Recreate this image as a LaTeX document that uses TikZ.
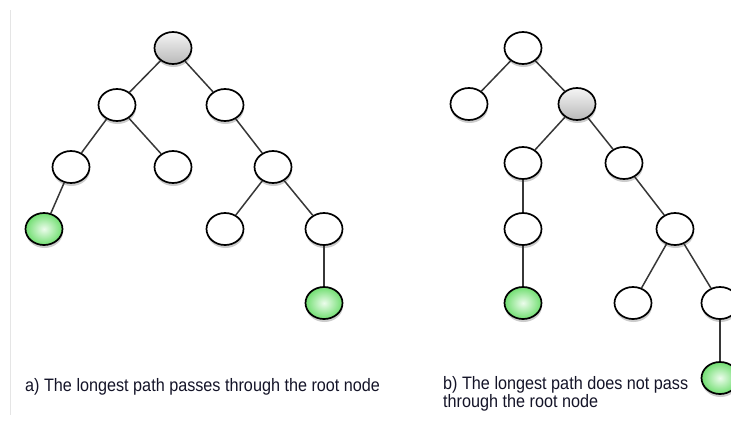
\documentclass[tikz,border=0pt]{standalone}
\usepackage{fontspec}
\setmainfont[FakeStretch=0.9]{Liberation Sans}
\usetikzlibrary{shapes.geometric,shadows}
\definecolor{leafin}{RGB}{236,252,236}
\definecolor{leafout}{RGB}{112,222,112}
\definecolor{edgegray}{RGB}{55,55,55}
\definecolor{captext}{RGB}{20,20,40}

\begin{document}
\begin{tikzpicture}[x=1pt,y=-1pt,
  vertex/.style={ellipse,draw=black,line width=1.7pt,minimum width=37pt,minimum height=32pt,inner sep=0pt,
    fill=white,drop shadow={shadow xshift=0.5pt,shadow yshift=-3pt,opacity=.4}},
  leaf/.style={vertex,inner color=leafin,outer color=leafout},
  top/.style={vertex,top color=gray!8,bottom color=gray!55},
  link/.style={draw=edgegray,line width=1.5pt},
  caption/.style={font=\fontsize{18}{16.5}\selectfont,align=left,text=captext}]

\useasboundingbox (0,0) rectangle (731,421);
\clip (0,0) rectangle (731,421);
\draw[gray!20, line width=1pt] (10,10) -- (10,415);

% Tree a
\path
(173,48)   node[top]    (a0) {}
+(-56,57)  node[vertex] (a1) {}
+(52,57)   node[vertex] (a2) {}
+(-102,119) node[vertex] (a3) {}
+(0,119)   node[vertex] (a4) {}
+(100,119) node[vertex] (a5) {}
+(-129,181) node[leaf]  (a6) {}
+(52,181)  node[vertex] (a7) {}
+(151,181) node[vertex] (a8) {}
+(151,255) node[leaf]   (a9) {};

\draw[link] (a0)--(a1);
\draw[link] (a0)--(a2);
\draw[link] (a1)--(a3);
\draw[link] (a1)--(a4);
\draw[link] (a2)--(a5);
\draw[link] (a3)--(a6);
\draw[link] (a5)--(a7);
\draw[link] (a5)--(a8);
\draw[link] (a8)--(a9);

\node[caption, anchor=base west, inner sep=0pt] (capa) at (25,391) {a) The longest path passes through the root node};
% end of Tree a

% Tree b
\path
(523,48)   node[vertex] (b0) {}
+(-54,56)  node[vertex] (b1) {}
+(54,56)   node[top]    (b2) {}
+(0,115)   node[vertex] (b3) {}
+(101,115) node[vertex] (b4) {}
+(0,181)   node[vertex] (b5) {}
+(152,181) node[vertex] (b6) {}
+(0,255)   node[leaf]   (b7) {}
+(110,255) node[vertex] (b8) {}
+(197,255) node[vertex] (b9) {}
+(197,330) node[leaf]   (b10) {};

\draw[link] (b0)--(b1);
\draw[link] (b0)--(b2);
\draw[link] (b2)--(b3);
\draw[link] (b2)--(b4);
\draw[link] (b3)--(b5);
\draw[link] (b4)--(b6);
\draw[link] (b5)--(b7);
\draw[link] (b6)--(b8);
\draw[link] (b6)--(b9);
\draw[link] (b9)--(b10);

\node[caption, anchor=base west, inner sep=0pt] (capb) at (443,407) {b) The longest path does not pass\\through the root node};
% end of Tree b

\end{tikzpicture}
\end{document}
